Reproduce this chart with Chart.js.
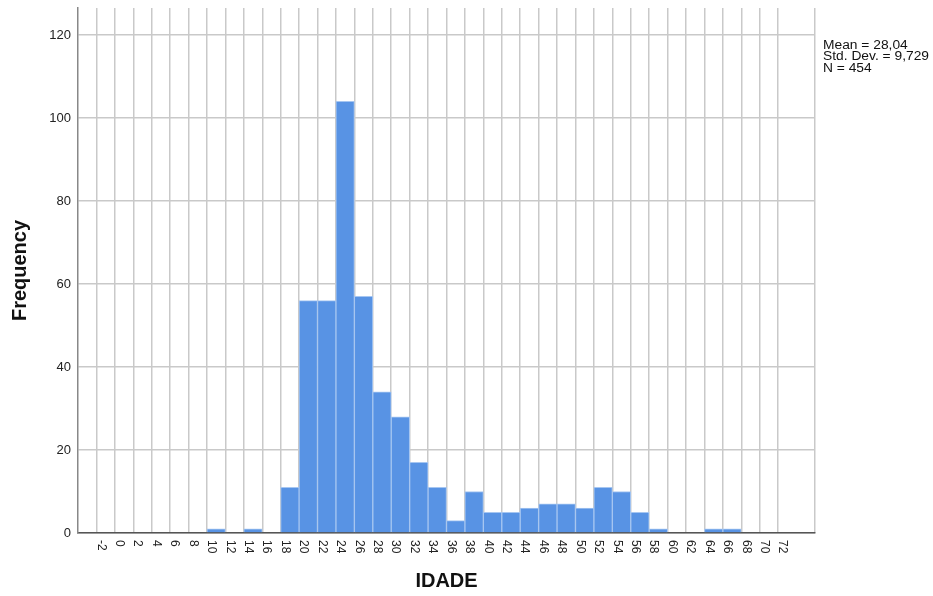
<!DOCTYPE html>
<html>
<head>
<meta charset="utf-8">
<script src="https://cdn.jsdelivr.net/npm/chart.js@4"></script>
<style>
  body { margin: 0; background: #fff; }
  #wrap { width: 933px; height: 596px; }
</style>
</head>
<body>
<div id="wrap"><canvas id="histo" width="933" height="596"></canvas></div>
<script>
// bin centres (IDADE) and frequencies
const idade = [-2, 0, 2, 4, 6, 8, 10, 12, 14, 16, 18, 20, 22, 24, 26, 28, 30, 32, 34, 36,
  38, 40, 42, 44, 46, 48, 50, 52, 54, 56, 58, 60, 62, 64, 66, 68, 70, 72]
const frequencia = [0, 0, 0, 0, 0, 0, 1, 0, 1, 0, 11, 56, 56, 104, 57, 34, 28, 17, 11, 3,
  10, 5, 5, 6, 7, 7, 6, 11, 10, 5, 1, 0, 0, 1, 1, 0, 0, 0]
const yTicks = [0, 20, 40, 60, 80, 100, 120]
const statLines = ['Mean = 28,04', 'Std. Dev. = 9,729', 'N = 454']

const fontFamily = '"Liberation Sans", Arial, sans-serif'
const xMin = idade[0] - 2
const xMax = idade[idade.length - 1] + 2

/**
 * Rótulos do eixo X girados 90° no sentido horário (como no SPSS).
 */
const rotatedTicks = {
  id: 'rotatedTicks',
  afterDraw(chart) {
    const scale = chart.scales.x
    const ctx = chart.ctx
    ctx.save()
    ctx.font = '12px ' + fontFamily
    ctx.fillStyle = '#222'
    ctx.textAlign = 'left'
    ctx.textBaseline = 'alphabetic'
    idade.forEach((v) => {
      const x = scale.getPixelForValue(v)
      ctx.save()
      ctx.translate(x - 8, scale.top + 7)
      ctx.rotate(Math.PI / 2)
      ctx.fillText(String(v), 0, 0)
      ctx.restore()
    })
    ctx.restore()
  },
}

/**
 * Caixa de estatísticas à direita do gráfico.
 */
const statsBox = {
  id: 'statsBox',
  afterDraw(chart) {
    const ctx = chart.ctx
    const area = chart.chartArea
    ctx.save()
    ctx.font = '12px ' + fontFamily
    ctx.fillStyle = '#111'
    ctx.textAlign = 'left'
    ctx.textBaseline = 'alphabetic'
    ctx.translate(area.right + 8, area.top + 40.5)
    ctx.scale(1.15, 1)
    statLines.forEach((line, i) => {
      ctx.fillText(line, 0, i * 11.8)
    })
    ctx.restore()
  },
}

const data = {
  datasets: [
    {
      data: idade.map((x, i) => ({ x, y: frequencia[i] })),
      backgroundColor: '#5893e4',
      borderColor: '#a6c6f1',
      borderWidth: 1,
      barPercentage: 1,
      categoryPercentage: 1,
    },
  ],
}

const options = {
  responsive: false,
  animation: false,
  layout: { padding: { top: 8, right: 118, bottom: 3, left: 0 } },
  plugins: {
    legend: { display: false },
    tooltip: { enabled: false },
  },
  scales: {
    x: {
      type: 'linear',
      min: xMin,
      max: xMax,
      ticks: { display: false, stepSize: 2 },
      grid: {
        drawTicks: false,
        color: (c) => (c.tick && (c.tick.value === xMin || c.tick.value === xMax) ? 'rgba(0,0,0,0)' : '#c9c9c9'),
        lineWidth: 1.5,
      },
      border: { color: '#555', width: 1.5 },
      title: {
        display: true,
        text: 'IDADE',
        color: '#111',
        font: { family: fontFamily, size: 20, weight: 'bold' },
        padding: { top: 36, bottom: 0 },
      },
    },
    y: {
      min: 0,
      max: 126.5,
      afterBuildTicks: (scale) => {
        scale.ticks = yTicks.map((value) => ({ value }))
      },
      afterFit: (scale) => {
        scale.width = 78
        scale.paddingTop = 0
        scale.paddingBottom = 0
      },
      ticks: {
        padding: 7,
        color: '#222',
        font: { family: fontFamily, size: 13 },
      },
      grid: { drawTicks: false, color: '#c9c9c9', lineWidth: 1.5 },
      border: { color: '#888', width: 1.5 },
      title: {
        display: true,
        text: 'Frequency',
        color: '#111',
        font: { family: fontFamily, size: 20, weight: 'bold' },
        padding: { top: 8, bottom: 0 },
      },
    },
  },
}

new Chart(document.querySelector('#histo'), {
  type: 'bar',
  data,
  options,
  plugins: [rotatedTicks, statsBox],
})
</script>
</body>
</html>
